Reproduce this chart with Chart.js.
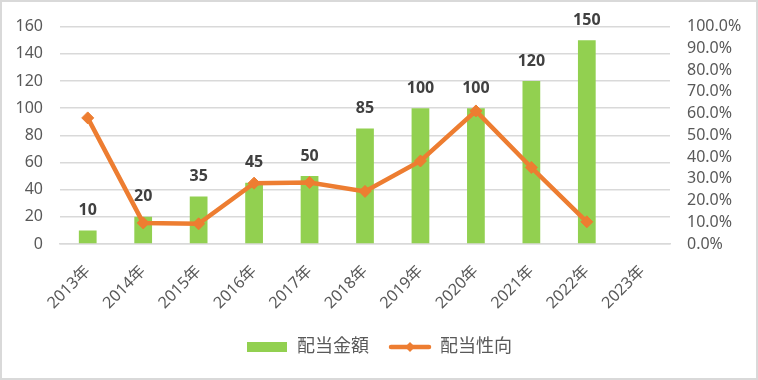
<!DOCTYPE html>
<html>
<head>
<meta charset="utf-8">
<script src="https://cdn.jsdelivr.net/npm/chart.js@4"></script>
<style>
  html, body { margin: 0; padding: 0; background: #fff; }
  #wrap { width: 758px; height: 380px; position: relative; }
</style>
</head>
<body>
<div id="wrap"><canvas id="c" width="758" height="380"></canvas></div>
<script>
const categories = ['2013年','2014年','2015年','2016年','2017年','2018年','2019年','2020年','2021年','2022年','2023年'];
const dividendAmounts = [10, 20, 35, 45, 50, 85, 100, 100, 120, 150, null];
const payoutRatios = [58.0, 9.7, 9.3, 28.0, 28.3, 24.2, 38.2, 61.2, 35.2, 10.2, null];
const leftTicks = [0, 20, 40, 60, 80, 100, 120, 140, 160];
const rightTicks = [0, 10, 20, 30, 40, 50, 60, 70, 80, 90, 100];
const seriesNames = ['配当金額', '配当性向'];

const GREEN = '#92D050';
const ORANGE = '#ED7D31';
const TEXT = '#595959';
const GRID = '#D9D9D9';
const FONT = "'Noto Sans', 'Noto Sans CJK JP', sans-serif";

function makeBarIcon() {
  const c = document.createElement('canvas');
  c.width = 40; c.height = 10;
  const g = c.getContext('2d');
  g.fillStyle = GREEN; g.fillRect(0, 0, 40, 10);
  return c;
}
function makeLineIcon() {
  const c = document.createElement('canvas');
  c.width = 44; c.height = 12;
  const g = c.getContext('2d');
  g.strokeStyle = ORANGE; g.lineWidth = 4.5; g.lineCap = 'round';
  g.beginPath(); g.moveTo(3, 6); g.lineTo(41, 6); g.stroke();
  g.fillStyle = ORANGE;
  g.beginPath(); g.moveTo(22, 1); g.lineTo(27, 6); g.lineTo(22, 11); g.lineTo(17, 6); g.closePath(); g.fill();
  return c;
}
const icons = [makeBarIcon(), makeLineIcon()];

const frame = {
  id: 'frame',
  beforeDraw(chart) {
    const ctx = chart.ctx;
    ctx.save();
    ctx.fillStyle = '#fff';
    ctx.fillRect(0, 0, chart.width, chart.height);
    ctx.strokeStyle = GRID; ctx.lineWidth = 2;
    ctx.strokeRect(1, 1, chart.width - 2, chart.height - 2);
    ctx.restore();
  }
};

const barLabels = {
  id: 'barLabels',
  afterDatasetsDraw(chart) {
    const ctx = chart.ctx;
    const meta = chart.getDatasetMeta(0);
    ctx.save();
    ctx.font = "bold 16px " + FONT;
    ctx.fillStyle = '#404040';
    ctx.textAlign = 'center';
    ctx.textBaseline = 'middle';
    meta.data.forEach((el, i) => {
      const v = dividendAmounts[i];
      if (v == null) return;
      ctx.fillText(String(v), el.x, el.y - 20);
    });
    ctx.restore();
  }
};

new Chart(document.getElementById('c'), {
  type: 'bar',
  data: {
    labels: categories,
    datasets: [
      {
        type: 'bar',
        label: seriesNames[0],
        data: dividendAmounts,
        backgroundColor: GREEN,
        borderWidth: 0,
        barPercentage: 0.32,
        categoryPercentage: 1.0,
        yAxisID: 'y',
        order: 1
      },
      {
        type: 'line',
        label: seriesNames[1],
        data: payoutRatios,
        borderColor: ORANGE,
        backgroundColor: ORANGE,
        borderWidth: 4.5,
        pointStyle: 'rectRot',
        pointRadius: 6,
        pointBorderWidth: 1,
        pointBackgroundColor: ORANGE,
        pointBorderColor: ORANGE,
        tension: 0,
        yAxisID: 'y1',
        order: 0
      }
    ]
  },
  options: {
    responsive: false,
    animation: false,
    layout: { padding: { left: 2, right: 2, top: 24, bottom: 14 } },
    plugins: {
      tooltip: { enabled: false },
      legend: {
        position: 'bottom',
        labels: {
          usePointStyle: true,
          pointStyleWidth: 42,
          boxHeight: 12,
          padding: 20,
          color: TEXT,
          font: { family: FONT, size: 18 },
          generateLabels(chart) {
            return seriesNames.map((name, i) => ({
              text: name,
              fillStyle: i === 0 ? GREEN : ORANGE,
              strokeStyle: 'rgba(0,0,0,0)',
              lineWidth: 0,
              pointStyle: icons[i],
              hidden: false,
              datasetIndex: i,
              fontColor: TEXT
            }));
          }
        }
      }
    },
    scales: {
      x: {
        grid: { display: false, drawTicks: false },
        border: { display: true, color: GRID, width: 1.5 },
        ticks: {
          color: TEXT,
          font: { family: FONT, size: 16 },
          minRotation: 45,
          maxRotation: 45,
          padding: 18,
          autoSkip: false
        },
        afterFit(scale) { scale.height = 74; }
      },
      y: {
        position: 'left',
        min: 0, max: 160,
        afterBuildTicks(scale) { scale.ticks = leftTicks.map(v => ({ value: v })); },
        grid: { color: GRID, lineWidth: 1.5, drawTicks: false },
        border: { display: false },
        ticks: {
          color: TEXT,
          font: { family: FONT, size: 16 },
          padding: 17,
          autoSkip: false
        },
        afterFit(scale) { scale.width = 58; }
      },
      y1: {
        position: 'right',
        min: 0, max: 100,
        afterBuildTicks(scale) { scale.ticks = rightTicks.map(v => ({ value: v })); },
        grid: { display: false, drawTicks: false },
        border: { display: false },
        ticks: {
          color: TEXT,
          font: { family: FONT, size: 16 },
          padding: 17,
          autoSkip: false,
          callback: (v) => Number(v).toFixed(1) + '%'
        },
        afterFit(scale) { scale.width = 86; }
      }
    }
  },
  plugins: [frame, barLabels]
});
</script>
</body>
</html>
